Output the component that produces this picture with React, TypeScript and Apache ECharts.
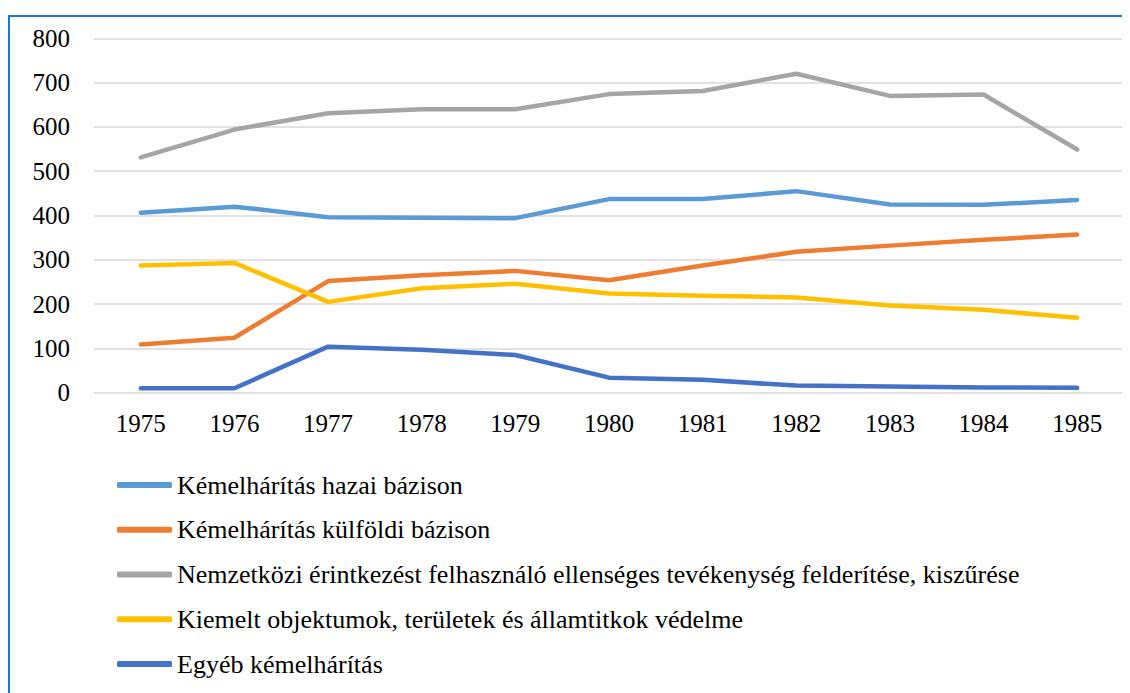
import React, { useEffect, useRef } from "react";
import * as echarts from "echarts";

const years = ["1975", "1976", "1977", "1978", "1979", "1980", "1981", "1982", "1983", "1984", "1985"];
const yTicks = [0, 100, 200, 300, 400, 500, 600, 700, 800];

const hazai = [406, 420, 396, 395, 394, 437, 437, 455, 425, 424, 435];
const kulfoldi = [109, 124, 252, 265, 275, 254, 287, 318, 332, 345, 357];
const nemzetkozi = [531, 594, 631, 640, 640, 674, 681, 720, 670, 673, 549];
const kiemelt = [287, 293, 205, 236, 246, 224, 219, 215, 197, 187, 169];
const egyeb = [10, 10, 104, 97, 85, 34, 29, 16, 14, 12, 11];

const seriesNames = [
  "Kémelhárítás hazai bázison",
  "Kémelhárítás külföldi bázison",
  "Nemzetközi érintkezést felhasználó ellenséges tevékenység felderítése, kiszűrése",
  "Kiemelt objektumok, területek és államtitkok védelme",
  "Egyéb kémelhárítás",
];
const seriesData = [hazai, kulfoldi, nemzetkozi, kiemelt, egyeb];
const colors = ["#5B9BD5", "#ED7D31", "#A5A5A5", "#FFC000", "#4472C4"];

const FONT = "Liberation Serif";

export default function App() {
  const ref = useRef<HTMLDivElement>(null);
  useEffect(() => {
    if (!ref.current) return;
    const chart = echarts.init(ref.current, undefined, { renderer: "svg" });
    chart.setOption({
      animation: false,
      grid: { left: 94, right: 6, top: 38.3, bottom: 300.3 },
      xAxis: {
        type: "category",
        data: years,
        axisLine: { show: false },
        axisTick: { show: false },
        axisLabel: { interval: 0, fontFamily: FONT, fontSize: 25, color: "#000000", margin: 18 },
      },
      yAxis: {
        type: "value",
        min: yTicks[0],
        max: yTicks[yTicks.length - 1],
        interval: 100,
        axisLine: { show: false },
        axisTick: { show: false },
        axisLabel: { fontFamily: FONT, fontSize: 25, color: "#000000", margin: 24 },
        splitLine: { lineStyle: { color: "#D9D9D9", width: 1.5 } },
      },
      legend: {
        orient: "vertical",
        left: 112,
        top: 467,
        itemWidth: 55,
        itemHeight: 6,
        itemGap: 18.75,
        icon: "roundRect",
        textStyle: { fontFamily: FONT, fontSize: 26, color: "#000000" },
      },
      series: seriesNames.map((name, i) => ({
        name,
        type: "line",
        data: seriesData[i],
        symbol: "none",
        color: colors[i],
        lineStyle: { width: 4.5, color: colors[i], cap: "round", join: "round" },
      })),
    });
    return () => chart.dispose();
  }, []);
  return (
    <div
      style={{
        position: "relative",
        width: 1130,
        height: 693,
        marginLeft: -8,
        marginTop: -8,
        overflow: "hidden",
        background: "#ffffff",
      }}
    >
      <div ref={ref} style={{ width: 1130, height: 693 }} />
      <div
        style={{
          position: "absolute",
          left: 8,
          top: 15,
          width: 1200,
          height: 800,
          border: "2px solid #1E78C8",
          boxSizing: "border-box",
          pointerEvents: "none",
        }}
      />
    </div>
  );
}
